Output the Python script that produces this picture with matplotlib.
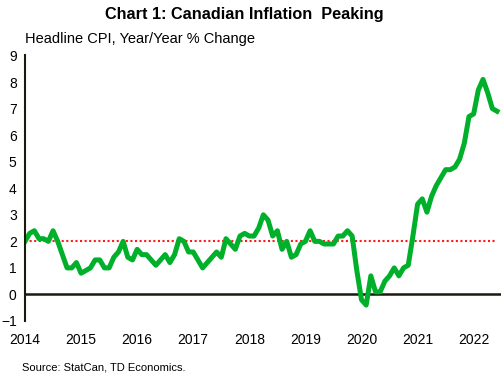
import numpy as np
import matplotlib
matplotlib.use('Agg')
import matplotlib.pyplot as plt

plt.rcParams['font.family'] = ['Liberation Sans', 'DejaVu Sans']

# Headline CPI y/y %, monthly, Apr 2014 - Sep 2022
cpi_2014 = [2.0, 2.3, 2.4, 2.1, 2.1, 2.0, 2.4, 2.0, 1.5]
cpi_2015 = [1.0, 1.0, 1.2, 0.8, 0.9, 1.0, 1.3, 1.3, 1.0, 1.0, 1.4, 1.6]
cpi_2016 = [2.0, 1.4, 1.3, 1.7, 1.5, 1.5, 1.3, 1.1, 1.3, 1.5, 1.2, 1.5]
cpi_2017 = [2.1, 2.0, 1.6, 1.6, 1.3, 1.0, 1.2, 1.4, 1.6, 1.4, 2.1, 1.9]
cpi_2018 = [1.7, 2.2, 2.3, 2.2, 2.2, 2.5, 3.0, 2.8, 2.2, 2.4, 1.7, 2.0]
cpi_2019 = [1.4, 1.5, 1.9, 2.0, 2.4, 2.0, 2.0, 1.9, 1.9, 1.9, 2.2, 2.2]
cpi_2020 = [2.4, 2.2, 0.9, -0.2, -0.4, 0.7, 0.1, 0.1, 0.5, 0.7, 1.0, 0.7]
cpi_2021 = [1.0, 1.1, 2.2, 3.4, 3.6, 3.1, 3.7, 4.1, 4.4, 4.7, 4.7, 4.8]
cpi_2022 = [5.1, 5.7, 6.7, 6.8, 7.7, 8.1, 7.6, 7.0, 6.9]

cpi = np.array(cpi_2014 + cpi_2015 + cpi_2016 + cpi_2017 + cpi_2018
               + cpi_2019 + cpi_2020 + cpi_2021 + cpi_2022)
target = 2.0
years = ['2014', '2015', '2016', '2017', '2018', '2019', '2020', '2021', '2022']

x = np.arange(len(cpi))

fig = plt.figure(figsize=(5.01, 3.73), dpi=100)
ax = fig.add_axes([25 / 501, 1 - 321 / 373, 476 / 501, 265.5 / 373])

ax.plot(x, np.full(len(cpi), target), color='#ff1a1a', linestyle=(0, (1, 1.2)), linewidth=1.5)
ax.axhline(0, color='#1a1a0a', linewidth=1.8)
ax.plot(x, cpi, color='#00b02a', linewidth=3.6, solid_joinstyle='round')

ax.set_xlim(0, 101.85)
ax.set_ylim(-1, 9)
ax.set_yticks(range(-1, 10))
ax.set_xticks(np.arange(0, 12 * len(years), 12))
ax.set_xticklabels(years)
ax.tick_params(axis='both', length=0, labelsize=10)
ax.tick_params(axis='x', pad=9)
ax.tick_params(axis='y', pad=6)

for s in ['top', 'right', 'bottom']:
    ax.spines[s].set_visible(False)
ax.spines['left'].set_color('#1a1a0a')
ax.spines['left'].set_linewidth(1.5)

fig.text(244 / 501, 1 - 14 / 373, 'Chart 1: Canadian Inflation  Peaking',
         ha='center', va='center', fontsize=11.7, fontweight='bold')
fig.text(25 / 501, 1 - 39 / 373, 'Headline CPI, Year/Year % Change',
         ha='left', va='center', fontsize=10.5)
fig.text(22 / 501, 1 - 368 / 373, 'Source: StatCan, TD Economics.',
         ha='left', va='center', fontsize=8)

fig.savefig('out.png', dpi=100)
